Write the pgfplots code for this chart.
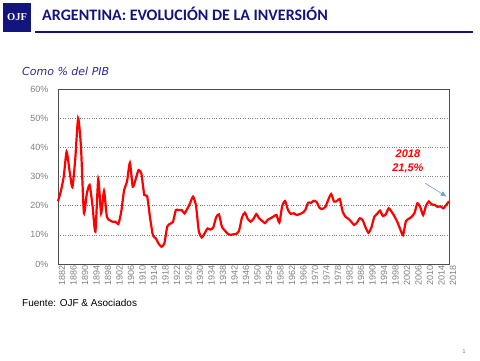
\documentclass[border=0pt]{standalone}
\usepackage{pgfplots}
\pgfplotsset{compat=1.18}
\usetikzlibrary{arrows.meta}
\usepackage{fontspec}
\setmainfont{Liberation Sans}
\newfontfamily\titlefont{Carlito}
\newfontfamily\dejavu{DejaVu Sans}
\newfontfamily\seriffont{Liberation Serif}
\definecolor{navy}{HTML}{14147F}
\definecolor{subblue}{HTML}{2B2B96}
\definecolor{tickgray}{HTML}{808080}
\definecolor{arrowblue}{HTML}{6A9FD8}
\pgfplotstableread{
year val
1882 21.5
1883 25
1884 30
1885 38.5
1886 32
1887 26.3
1888 36
1889 50
1890 40
1891 17.6
1892 24
1893 27.1
1894 20
1895 11.1
1896 29.1
1897 17.4
1898 25
1899 16.2
1900 15
1901 14.5
1902 14.5
1903 13.7
1904 18
1905 25.4
1906 28.2
1907 34.7
1908 26.5
1909 29
1910 32.2
1911 31
1912 23.7
1913 23.3
1914 16
1915 9.9
1916 8.8
1917 7
1918 5.9
1919 7.1
1920 12.8
1921 13.8
1922 14.5
1923 18.5
1924 18.5
1925 18.5
1926 17.4
1927 19
1928 21
1929 23.1
1930 20
1931 11.1
1932 9.1
1933 10.5
1934 12.2
1935 11.8
1936 12.5
1937 16
1938 17
1939 12.8
1940 11.5
1941 10.4
1942 10
1943 10.2
1944 10.3
1945 11.5
1946 16
1947 17.6
1948 15.5
1949 14.5
1950 15.5
1951 17.1
1952 15.6
1953 14.8
1954 14
1955 15.2
1956 15.7
1957 16.3
1958 16.8
1959 14.2
1960 20
1961 21.6
1962 18.5
1963 17.2
1964 17.4
1965 16.8
1966 17.1
1967 17.5
1968 18.5
1969 21
1970 21
1971 21.7
1972 21.2
1973 19.2
1974 18.9
1975 19.6
1976 22
1977 24
1978 21.4
1979 21.6
1980 22.3
1981 18
1982 16.2
1983 15.5
1984 14.5
1985 13.4
1986 14.2
1987 15.7
1988 15
1989 12.5
1990 10.7
1991 12.5
1992 16.1
1993 17.2
1994 18.3
1995 16.5
1996 17
1997 19.1
1998 18
1999 16.4
2000 14.5
2001 12
2002 9.9
2003 14.6
2004 15.5
2005 16.2
2006 17.5
2007 20.8
2008 19.5
2009 16.8
2010 20
2011 21.4
2012 20.4
2013 20.3
2014 19.6
2015 19.8
2016 19.1
2017 20.2
2018 21.5
}\datatable
\begin{document}
\begin{tikzpicture}
\path[use as bounding box] (0pt,0pt) rectangle (480pt,360pt);
% logo
\fill[navy] (3pt,328pt) rectangle (31pt,357pt);
\node[text=white,font=\seriffont\bfseries\fontsize{10.5}{11}\selectfont] at (17pt,342.5pt) {OJF};
\draw[navy,line width=1.3pt] (35pt,328pt) -- (473pt,328pt);
\node[anchor=base west,text=navy,font=\titlefont\bfseries\fontsize{16}{18}\selectfont,inner sep=0pt] at (42pt,340pt) {ARGENTINA: EVOLUCIÓN DE LA INVERSIÓN};
\node[anchor=base west,text=subblue,font=\dejavu\itshape\fontsize{11}{12}\selectfont,inner sep=0pt] at (22pt,285pt) {Como \% del PIB};
\node[anchor=base west,text=black,font=\fontsize{10}{12}\selectfont,inner sep=0pt] at (22pt,54pt) {Fuente: OJF \& Asociados};
\node[anchor=base east,text=tickgray,font=\fontsize{6}{7}\selectfont,inner sep=0pt] at (466pt,7pt) {1};
\begin{axis}[
  at={(58pt,96pt)}, anchor=south west,
  scale only axis, width=391pt, height=175pt,
  xmin=1882, xmax=2018, ymin=0, ymax=60,
  xtick={1882,1886,...,2018},
  ytick={0,10,...,60},
  yticklabel={\pgfmathprintnumber{\tick}\%},
  /pgf/number format/assume math mode=true,
  /pgf/number format/set thousands separator={},
  xticklabel style={rotate=90, anchor=east, font=\fontsize{9}{10}\selectfont, text=tickgray, inner sep=1pt, yshift=-4pt},
  yticklabel style={font=\fontsize{9}{10}\selectfont, text=tickgray, xshift=-6pt},
  xtick style={draw=none}, ytick style={draw=none},
  major tick length=0pt,
  ymajorgrids,
  grid style={tickgray, dotted, line width=0.6pt},
  axis line style={draw=gray!60!black, line width=1pt},
  clip=false,
]
\addplot[red, line width=2.2pt, smooth, tension=0.35] table[x=year,y=val] {\datatable};
\node[text=red,font=\bfseries\itshape\fontsize{11}{12}\selectfont] at (axis cs:2003.7,37.7) {2018};
\node[text=red,font=\bfseries\itshape\fontsize{11}{12}\selectfont] at (axis cs:2003.7,32.6) {21,5\%};
\draw[arrowblue, line width=0.6pt, -{Latex[length=6pt,width=5pt]}] (axis cs:2009.7,27.7) -- (axis cs:2017.2,23.1);
\end{axis}
\end{tikzpicture}
\end{document}
